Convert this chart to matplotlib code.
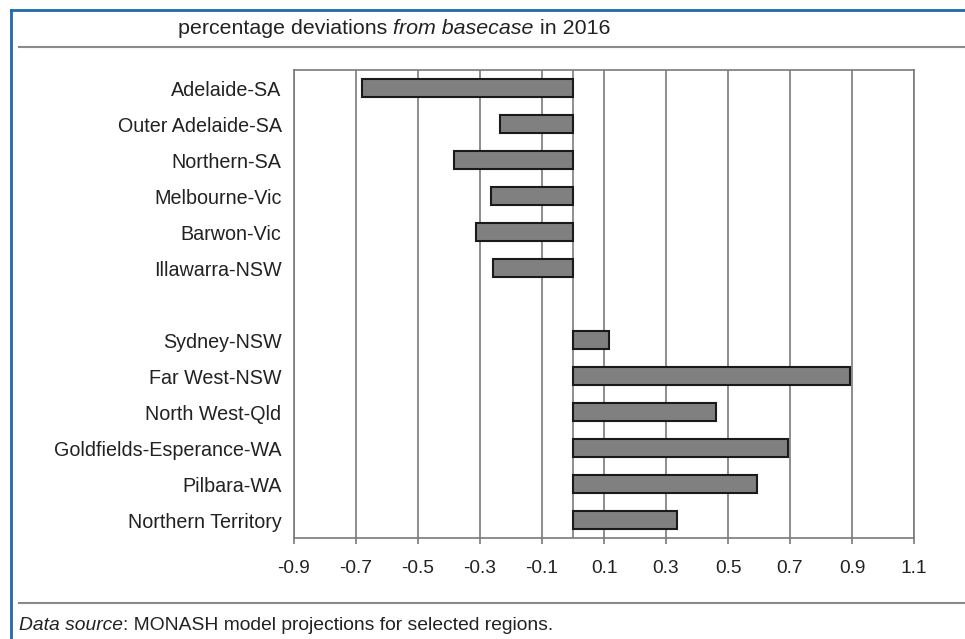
import matplotlib.pyplot as plt
from matplotlib.lines import Line2D
import numpy as np

plt.rcParams['font.family'] = ['Liberation Sans', 'DejaVu Sans']

### data ###
regions = ['Adelaide-SA', 'Outer Adelaide-SA', 'Northern-SA', 'Melbourne-Vic',
           'Barwon-Vic', 'Illawarra-NSW', '',
           'Sydney-NSW', 'Far West-NSW', 'North West-Qld',
           'Goldfields-Esperance-WA', 'Pilbara-WA', 'Northern Territory']
deviation = [-0.68, -0.235, -0.383, -0.266, -0.313, -0.257, np.nan,
             0.116, 0.894, 0.46, 0.693, 0.592, 0.334]
xticks = [-0.9, -0.7, -0.5, -0.3, -0.1, 0.1, 0.3, 0.5, 0.7, 0.9, 1.1]

### figure ###
fig = plt.figure(figsize=(9.65, 6.39), dpi=100)
ax = fig.add_axes([294/965, 1-538/639, 620/965, 468/639])

ypos = np.arange(len(regions))
ax.barh(ypos, deviation, height=0.48, color='#808080', edgecolor='#1a1a1a',
        linewidth=1.5, zorder=3)
ax.axvline(0, color='#7a7a7a', lw=1.2, zorder=2)

ax.set_xlim(-0.9, 1.1)
ax.set_ylim(len(regions)-0.5, -0.5)
ax.set_xticks(xticks)
ax.set_xticklabels(['%.1f' % t for t in xticks], fontsize=13.8, color='#222222')
ax.set_yticks(ypos)
ax.set_yticklabels(regions, fontsize=14.2, color='#222222')
ax.tick_params(axis='y', length=0, pad=9)
ax.tick_params(axis='x', length=4, width=1.2, color='#7a7a7a', pad=11.5)
ax.grid(axis='x', color='#7a7a7a', lw=1.2, zorder=1)
for s in ax.spines.values():
    s.set_color('#7a7a7a')
    s.set_linewidth(1.2)

# text pieces written one after the other, mixing normal and italic
def run_text(x0, y, parts, size):
    r = fig.canvas.get_renderer()
    x = x0
    for txt, st in parts:
        t = fig.text(x, y, txt, ha='left', va='center', fontsize=size,
                     style=st, color='#222222')
        bb = t.get_window_extent(renderer=r)
        x += bb.width / fig.bbox.width

run_text(178/965, 1-28/639,
         [('percentage deviations ', 'normal'), ('from basecase', 'italic'),
          (' in 2016', 'normal')], 15.4)
run_text(19/965, 1-625/639,
         [('Data source', 'italic'),
          (': MONASH model projections for selected regions.', 'normal')], 13.9)

fig.add_artist(Line2D([19/965, 1], [1-47/639]*2, color='#8a8a8a', lw=1.5))
fig.add_artist(Line2D([19/965, 1], [1-603/639]*2, color='#8a8a8a', lw=1.5))

# blue frame (top + left edges visible)
fig.add_artist(Line2D([11/965, 1], [1-10/639]*2, color='#1f6aa8', lw=2))
fig.add_artist(Line2D([11/965]*2, [0, 1-10/639], color='#1f6aa8', lw=2))

plt.savefig('out.png', dpi=100)
